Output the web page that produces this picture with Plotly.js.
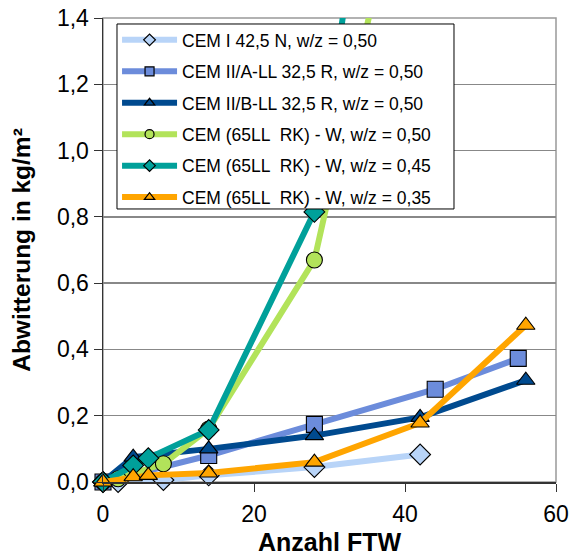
<!DOCTYPE html>
<html><head><meta charset="utf-8">
<script src="https://cdn.plot.ly/plotly-3.0.1.min.js"></script>
<style>html,body{margin:0;padding:0;background:#fff}#chart{width:571px;height:559px}</style>
</head><body><div id="chart"></div><script>
const names = [
  "CEM I 42,5 N, w/z = 0,50",
  "CEM II/A-LL 32,5 R, w/z = 0,50",
  "CEM II/B-LL 32,5 R, w/z = 0,50",
  "CEM (65LL  RK) - W, w/z = 0,50",
  "CEM (65LL  RK) - W, w/z = 0,45",
  "CEM (65LL  RK) - W, w/z = 0,35"
];
const xCemI = [0, 2, 8, 14, 28, 42];
const yCemI = [0, 0, 0.006, 0.02, 0.045, 0.083];
const xCemIIA = [0, 14, 28, 44, 55];
const yCemIIA = [0, 0.08, 0.174, 0.28, 0.373];
const xCemIIB = [0, 4, 14, 28, 42, 56];
const yCemIIB = [0, 0.075, 0.10, 0.14, 0.195, 0.307];
const xW50 = [0, 2, 8, 14, 28, 42];
const yW50 = [0, 0.01, 0.055, 0.16, 0.67, 2.09];
const xW45 = [0, 4, 6, 14, 28, 42];
const yW45 = [0, 0.05, 0.072, 0.157, 0.815, 3.0];
const xW35 = [0, 4, 6, 14, 28, 42, 56];
const yW35 = [0, 0.016, 0.02, 0.027, 0.06, 0.178, 0.473];
const yTicks = [0, 0.2, 0.4, 0.6, 0.8, 1.0, 1.2, 1.4];
const xTicks = [0, 20, 40, 60];

const colors = ["#b8d4f8", "#6c8cdb", "#004a8f", "#b2e35a", "#00a09a", "#ffa500"];
const symbols = ["diamond", "square", "triangle-up", "circle", "diamond", "triangle-up"];
const xs = [xCemI, xCemIIA, xCemIIB, xW50, xW45, xW35];
const ys = [yCemI, yCemIIA, yCemIIB, yW50, yW45, yW35];

const traces = names.map((n, i) => ({
  type: "scatter", mode: "lines+markers", name: n,
  x: xs[i], y: ys[i], cliponaxis: false,
  legendgroup: "g" + i, showlegend: false,
  line: {color: colors[i], width: 6},
  marker: {symbol: symbols[i], size: 16, color: colors[i], line: {color: "#000", width: 1.1}}
}));
// legend entries with the small legend symbols
const legendTraces = names.map((n, i) => ({
  type: "scatter", mode: "lines+markers", name: n,
  x: [null], y: [null], legendgroup: "g" + i, showlegend: true,
  line: {color: colors[i], width: 6},
  marker: {symbol: symbols[i], size: 9, color: colors[i], line: {color: "#000", width: 1.2}}
}));

const font = "Liberation Sans, Arial, sans-serif";
const layout = {
  width: 571, height: 559,
  margin: {l: 103, r: 15, t: 18, b: 77},
  paper_bgcolor: "#fff", plot_bgcolor: "#fff",
  separators: ",.",
  font: {family: font, color: "#000"},
  showlegend: true,
  legend: {x: 0.031, y: 0.9914, xanchor: "left", yanchor: "top",
    bgcolor: "rgba(0,0,0,0)", borderwidth: 0,
    font: {family: font, size: 17.5, color: "#000"},
    tracegroupgap: 5.7, itemwidth: 55, traceorder: "grouped"},
  xaxis: {range: [0, 60], tickvals: xTicks, ticks: "outside", ticklen: 8, tickcolor: "#333",
    showgrid: false, zeroline: false, showline: true, linecolor: "#333", linewidth: 1.5,
    tickfont: {size: 23, family: font}, ticklabelstandoff: 3,
    title: {text: "<b>Anzahl FTW</b>", font: {size: 25, family: font}, standoff: 7}},
  yaxis: {range: [0, 1.4], tickvals: yTicks, tickformat: ".1f", ticks: "outside", ticklen: 8, tickcolor: "#333",
    showgrid: true, gridcolor: "#888", gridwidth: 1.5, zeroline: false,
    showline: true, linecolor: "#333", linewidth: 1.5,
    tickfont: {size: 23, family: font},
    title: {text: "<b>Abwitterung in kg/m²</b>", font: {size: 24.5, family: font}, standoff: 19}},
  shapes: [
    {type: "rect", xref: "paper", yref: "paper", x0: 0, x1: 1, y0: 0, y1: 1,
      line: {color: "#999", width: 1.5}, layer: "below"},
    {type: "rect", xref: "paper", yref: "paper", x0: 0.0309, x1: 0.7748, y0: 0.5884, y1: 0.9871,
      fillcolor: "#fff", line: {color: "#000", width: 1}, layer: "above"}
  ]
};
Plotly.newPlot("chart", traces.concat(legendTraces), layout, {staticPlot: true, displayModeBar: false});
</script></body></html>
